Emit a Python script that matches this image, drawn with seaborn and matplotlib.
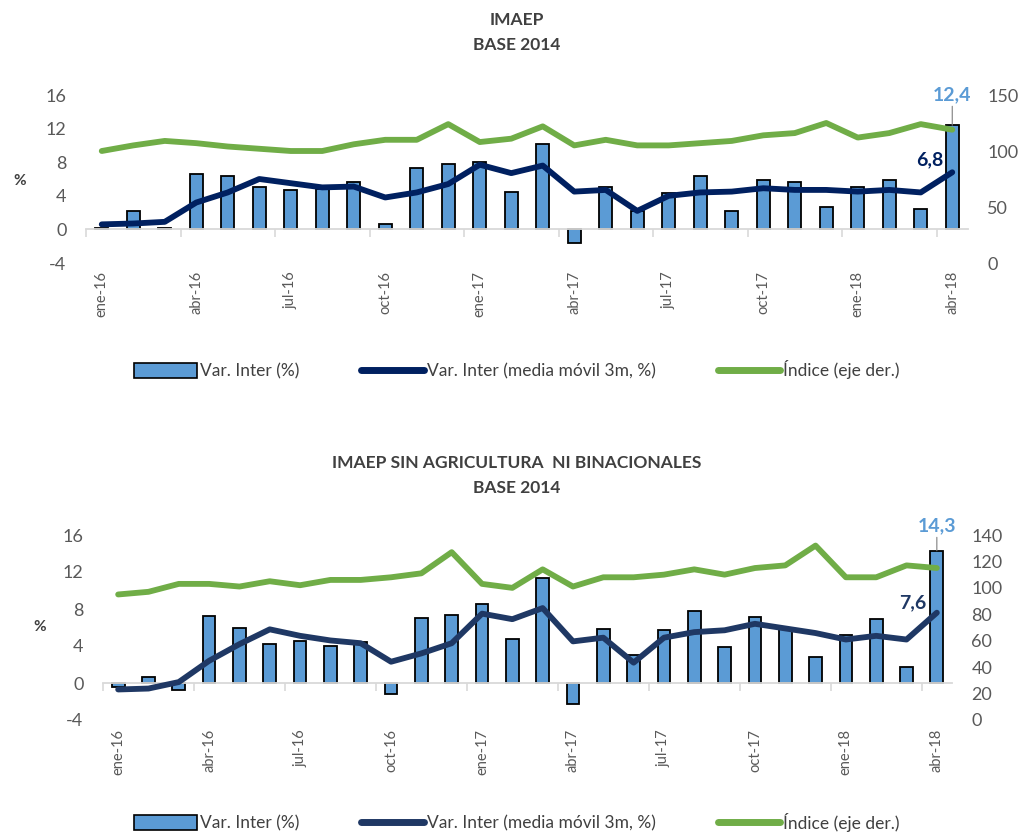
import matplotlib
matplotlib.use('Agg')
import pandas as pd
import matplotlib.pyplot as plt
import seaborn as sns
from matplotlib.patches import Patch
from matplotlib.lines import Line2D

sns.set_style('white')
plt.rcParams['font.family'] = ['Lato', 'DejaVu Sans']
plt.rcParams['axes.unicode_minus'] = False

# Data
months = ['ene-16', 'feb-16', 'mar-16', 'abr-16', 'may-16', 'jun-16',
          'jul-16', 'ago-16', 'sep-16', 'oct-16', 'nov-16', 'dic-16',
          'ene-17', 'feb-17', 'mar-17', 'abr-17', 'may-17', 'jun-17',
          'jul-17', 'ago-17', 'sep-17', 'oct-17', 'nov-17', 'dic-17',
          'ene-18', 'feb-18', 'mar-18', 'abr-18']

# IMAEP
var_imaep = [0.2, 2.2, 0.2, 6.6, 6.4, 5.0, 4.7, 4.8, 5.6, 0.6, 7.3, 7.8,
             8.0, 4.5, 10.2, -1.6, 5.0, 2.2, 4.3, 6.4, 2.2, 5.9, 5.6, 2.7,
             5.0, 5.9, 2.4, 12.4]
mm_imaep = [0.6, 0.7, 0.9, 3.2, 4.4, 6.0, 5.5, 5.0, 5.1, 3.8, 4.4, 5.4,
            7.7, 6.7, 7.6, 4.5, 4.7, 2.2, 4.0, 4.4, 4.5, 4.9, 4.7, 4.7,
            4.5, 4.7, 4.4, 6.8]
idx_imaep = [100, 105, 109, 107, 104, 102, 100, 100, 106, 110, 110, 124,
             108, 111, 122, 105, 110, 105, 105, 107, 109, 114, 116, 125,
             112, 116, 124, 119]

# IMAEP sin agricultura ni binacionales
var_sin = [-0.4, 0.7, -0.8, 7.2, 5.9, 4.2, 4.5, 4.0, 4.4, -1.2, 7.0, 7.4,
           8.5, 4.8, 11.3, -2.3, 5.8, 3.0, 5.7, 7.8, 3.9, 7.1, 6.0, 2.8,
           5.2, 6.9, 1.7, 14.3]
mm_sin = [-0.7, -0.6, 0.1, 2.4, 4.2, 5.8, 5.1, 4.6, 4.3, 2.3, 3.2, 4.3,
          7.5, 6.9, 8.1, 4.5, 4.9, 2.2, 4.9, 5.5, 5.7, 6.4, 5.9, 5.4,
          4.7, 5.1, 4.7, 7.6]
idx_sin = [95, 97, 103, 103, 101, 105, 102, 106, 106, 108, 111, 127,
           103, 100, 114, 101, 108, 108, 110, 114, 110, 115, 117, 132,
           108, 108, 117, 115]

legend_labels = ['Var. Inter (%)', 'Var. Inter (media móvil 3m, %)',
                 'Índice (eje der.)']

BAR = '#5B9BD5'
GREEN = '#70AD47'
GRAY = '#595959'
W, H = 1034, 833


def fmt(v):
    return f'{v:.1f}'.replace('.', ',')


def panel(fig, px_box, var, mm, idx, navy, right_ticks, pad_lbl, off_bar, off_mm):
    x0, x1, ytop, ybot = px_box
    ax = fig.add_axes([x0 / W, 1 - ybot / H, (x1 - x0) / W, (ybot - ytop) / H])
    df = pd.DataFrame({'pos': range(len(months)), 'var': var, 'mm': mm, 'idx': idx})

    sns.barplot(data=df, x='pos', y='var', ax=ax, native_scale=True,
                color=BAR, saturation=1, edgecolor='black', linewidth=1.3,
                width=0.42, errorbar=None, zorder=2)
    sns.lineplot(data=df, x='pos', y='mm', ax=ax, color=navy, linewidth=4.2,
                 zorder=3)

    ax.set_xlim(-0.5, len(months) - 0.5)
    ax.set_ylim(-4, 16)
    ax.set_yticks(range(-4, 17, 4))
    ax.set_xlabel('')
    ax.set_ylabel('')
    for s in ['top', 'right', 'left']:
        ax.spines[s].set_visible(False)
    ax.spines['bottom'].set_position(('data', 0))
    ax.spines['bottom'].set_color('#D9D9D9')
    ax.spines['bottom'].set_linewidth(1.3)

    bounds = [p - 0.5 for p in range(0, len(months), 3)]
    ax.set_xticks(bounds)
    ax.set_xticklabels([])
    ax.tick_params(axis='x', which='major', length=6, width=1.2,
                   color='#D9D9D9', direction='out', bottom=True)
    ax.set_xticks(range(0, len(months), 3), months[::3], minor=True)
    ax.tick_params(axis='x', which='minor', length=0, pad=pad_lbl,
                   labelrotation=90, labelsize=10.5, labelcolor=GRAY)
    ax.tick_params(axis='y', length=0, pad=14, labelsize=13, labelcolor=GRAY)

    ax2 = ax.twinx()
    sns.lineplot(data=df, x='pos', y='idx', ax=ax2, color=GREEN, linewidth=4.2)
    ax2.set_ylim(right_ticks[0], right_ticks[-1])
    ax2.set_yticks(right_ticks)
    ax2.set_ylabel('')
    ax2.tick_params(axis='y', length=0, pad=14, labelsize=13, labelcolor=GRAY)
    for s in ax2.spines.values():
        s.set_visible(False)

    last = len(months) - 1
    ax.annotate(fmt(var[-1]), xy=(last, var[-1]), xytext=(0, off_bar),
                textcoords='offset points', ha='center', va='bottom',
                color=BAR, fontsize=14, fontweight='bold',
                arrowprops=dict(arrowstyle='-', color='#7F7F7F', lw=0.8,
                                shrinkA=0, shrinkB=0))
    ax.annotate(fmt(mm[-1]), xy=(last, mm[-1]), xytext=off_mm,
                textcoords='offset points', ha='center', va='center',
                color=navy, fontsize=14, fontweight='bold')
    return ax


fig = plt.figure(figsize=(W / 100, H / 100), dpi=100)

# top panel
fig.text(0.5, 1 - 20 / H, 'IMAEP', ha='center', va='center',
         fontsize=12.5, fontweight='bold', color='#404040')
fig.text(0.5, 1 - 45 / H, 'BASE 2014', ha='center', va='center',
         fontsize=12.5, fontweight='bold', color='#404040')
panel(fig, (86, 968, 95, 263), var_imaep, mm_imaep, idx_imaep,
      '#002060', [0, 50, 100, 150], 30, 16, (-16, 9))
fig.text(20 / W, 1 - 181 / H, '%', ha='center', va='center',
         fontsize=11, fontweight='bold', color='#404040')

# bottom panel
fig.text(0.5, 1 - 463 / H, 'IMAEP SIN AGRICULTURA  NI BINACIONALES',
         ha='center', va='center', fontsize=12.5, fontweight='bold',
         color='#404040')
fig.text(0.5, 1 - 488 / H, 'BASE 2014', ha='center', va='center',
         fontsize=12.5, fontweight='bold', color='#404040')
panel(fig, (103, 952, 535, 720), var_sin, mm_sin, idx_sin,
      '#1F3864', list(range(0, 141, 20)), 33, 12, (-17, 7))
fig.text(40 / W, 1 - 627 / H, '%', ha='center', va='center',
         fontsize=11, fontweight='bold', color='#404040')

handles_top = [Patch(facecolor=BAR, edgecolor='black', linewidth=1.2),
               Line2D([], [], color='#002060', linewidth=5),
               Line2D([], [], color=GREEN, linewidth=5)]
handles_bot = [Patch(facecolor=BAR, edgecolor='black', linewidth=1.2),
               Line2D([], [], color='#1F3864', linewidth=5),
               Line2D([], [], color=GREEN, linewidth=5)]
for hs, y in [(handles_top, 370), (handles_bot, 822)]:
    fig.legend(hs, legend_labels, loc='center', bbox_to_anchor=(0.5, 1 - y / H),
               ncol=3, frameon=False, fontsize=12.5, handlelength=3.6,
               handleheight=0.9, handletextpad=0.15, columnspacing=3.6,
               labelcolor='#404040')

fig.savefig('out.png', dpi=100)
